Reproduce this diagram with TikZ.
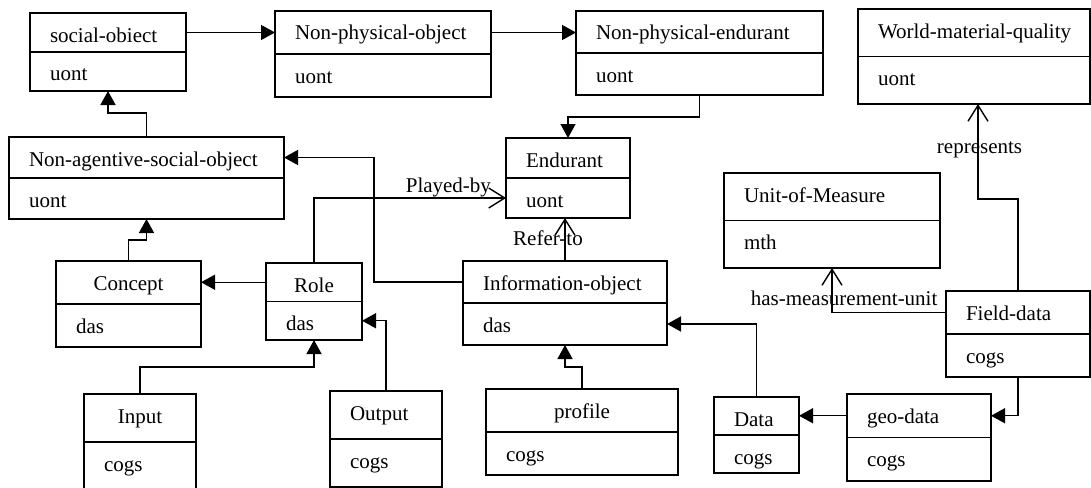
\documentclass[tikz,border=0pt]{standalone}
\usepackage{fontspec}
\setmainfont{Liberation Serif}
\usetikzlibrary{positioning, arrows.meta}

% class box: title part + attribute part
\newcommand{\umlclass}[7][]{%
  \node[clshead, text width=#4, text depth=#5, anchor=north west, #1] (#2) at (#3) {\mbox{#6}};
  \node[clsattr, text width=#4, text depth=#5, below=0pt of #2] (#2-a) {\mbox{#7}};
}

\begin{document}
\begin{tikzpicture}[
    x=1pt, y=1pt,
    font=\fontsize{21pt}{25pt}\selectfont,
    clshead/.style={rectangle, draw, line width=1.4pt, outer sep=0pt,
        inner xsep=20pt, inner ysep=0pt, text height=29pt, align=left},
    clsattr/.style={clshead},
    isa/.style={-{Triangle[length=14pt, width=15pt]}, line width=1.4pt},
    assoc/.style={-{Straight Barb[length=16pt, width=20pt]}, line width=1.4pt},
    lbl/.style={inner sep=0pt, anchor=base}
]
\useasboundingbox (0,0) rectangle (1091,-487);

% --- Classes ---
\umlclass{social}{30,-13}{116pt}{10pt}{social-obiect}{uont}
\umlclass{nonphys}{275,-11}{176pt}{14pt}{Non-physical-object}{uont}
\umlclass{npend}{576,-11}{207pt}{13pt}{Non-physical-endurant}{uont}
\umlclass{world}{858,-9}{192pt}{18.5pt}{World-material-quality}{uont}
\umlclass{nonag}{9,-137}{235pt}{12pt}{Non-agentive-social-object}{uont}
\umlclass{endurant}{506,-138}{84pt}{11pt}{Endurant}{uont}
\umlclass{unit}{724,-173}{176pt}{18.5pt}{Unit-of-Measure}{mth}
\umlclass[align=center]{concept}{56,-261}{105pt}{14pt}{Concept}{das}
\umlclass[align=center]{role}{266,-263}{56pt}{9.5pt}{Role}{das}
\umlclass{info}{463,-261}{164pt}{13pt}{Information-object}{das}
\umlclass{field}{946,-291}{104pt}{14pt}{Field-data}{cogs}
\umlclass[align=center]{input}{84,-394}{72pt}{19pt}{Input}{cogs}
\umlclass{output}{330,-391}{72pt}{19pt}{Output}{cogs}
\umlclass[align=center]{profile}{486,-389}{152pt}{14pt}{profile}{cogs}
\umlclass{data}{714,-397}{45pt}{9pt}{Data}{cogs}
\umlclass{geo}{847,-394}{104pt}{14.5pt}{geo-data}{cogs}

% --- Top row ---
\draw[isa] (social.east) -- (social.east -| nonphys.west);
\draw[isa] (nonphys.east) -- (nonphys.east -| npend.west);
\draw[isa] (npend-a.south) -- ++(0,-22) -| (endurant.north);
\draw[isa] (nonag.north) -- ++(0,24) -| (social-a.south);

% --- Left part ---
\draw[isa] (concept.north) -- ++(0,21) -| (nonag-a.south);
\draw[isa] (info.west) -- ++(-89,0) |- (nonag.east);
\draw[isa] (role.west) -- (role.west -| concept.east);
\draw[isa] (input.north) -- ++(0,27) -| (role-a.south);
\draw[isa] (output.north) |- (role-a.east);
\draw[assoc] (role.north) |- (endurant-a.west)
    node[lbl, pos=0.85, yshift=5.5pt] {Played-by};

% --- Right part ---
\draw[assoc] (info.north) -- (info.north |- endurant-a.south)
    node[lbl, pos=0.36, xshift=-17pt] {Refer-to};
\draw[isa] (profile.north) -- ++(0,22) -| (info-a.south);
\draw[isa] (data.north) |- (info-a.east);
\draw[isa] (field-a.south) |- (geo.east);
\draw[isa] (geo.west) -- (geo.west -| data.east);
\draw[assoc] (field.west) -| (unit-a.south)
    node[lbl, pos=0.447, yshift=7pt] {has-measurement-unit};
\draw[assoc] (field.north) -- ++(0,92) -| ([xshift=4pt]world-a.south)
    node[lbl, pos=0.737, xshift=1.5pt] {represents};

\end{tikzpicture}
\end{document}
